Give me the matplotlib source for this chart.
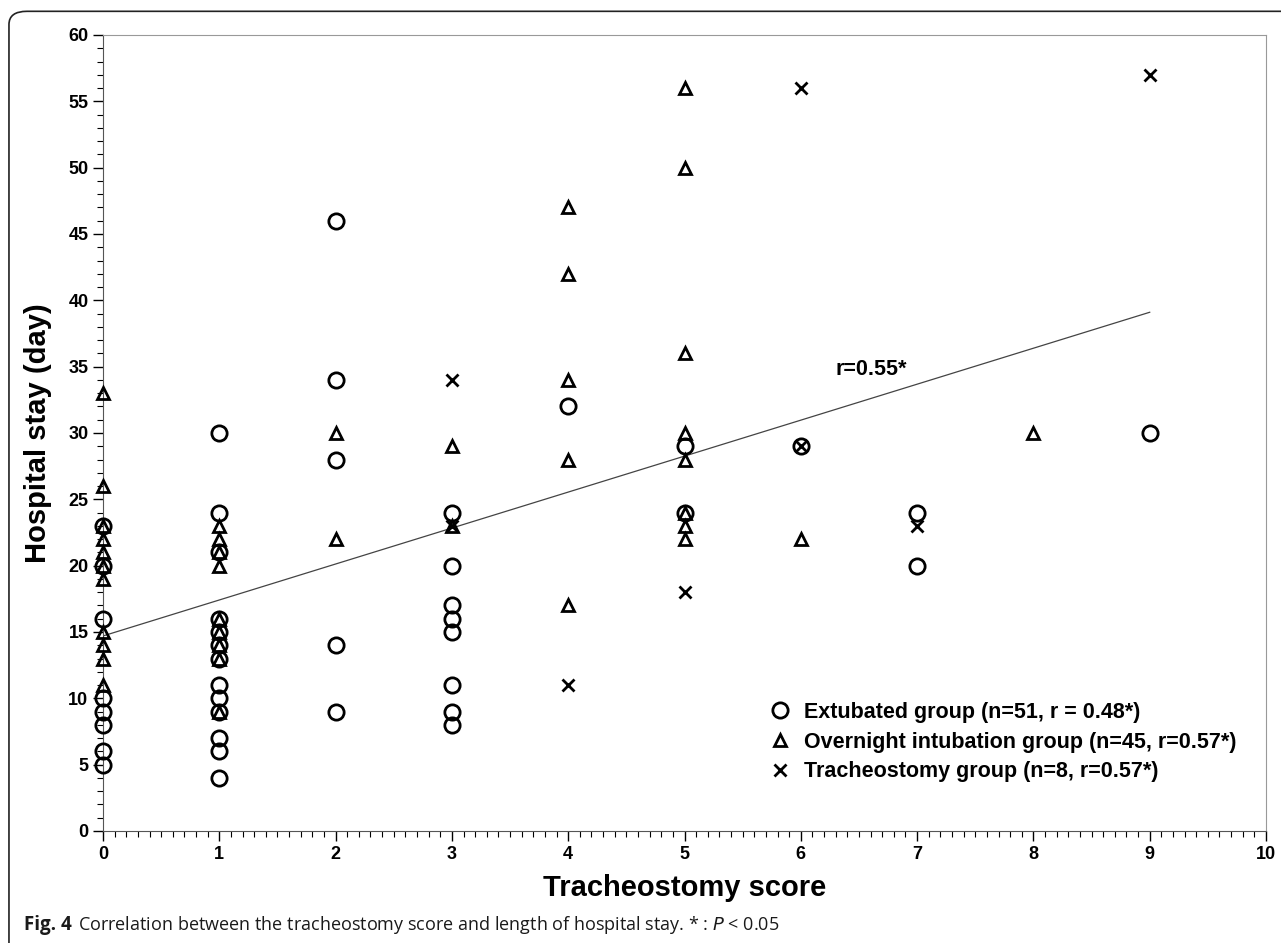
import numpy as np
import matplotlib.pyplot as plt
from matplotlib.patches import FancyBboxPatch

plt.rcParams['font.family'] = ['Liberation Sans', 'DejaVu Sans']

# Extubated group (circles)
ext_x = [0, 0, 0, 0, 0, 0, 0, 0,
         1, 1, 1, 1, 1, 1, 1, 1, 1, 1, 1, 1, 1,
         2, 2, 2, 2, 2,
         3, 3, 3, 3, 3, 3, 3, 3,
         4, 5, 5, 6, 7, 7, 9]
ext_y = [23, 20, 16, 10, 9, 8, 6, 5,
         30, 24, 21, 16, 15, 14, 13, 11, 10, 9, 7, 6, 4,
         46, 34, 28, 14, 9,
         24, 20, 17, 16, 15, 11, 9, 8,
         32, 29, 24, 29, 24, 20, 30]

# Overnight intubation group (triangles)
ovn_x = [0, 0, 0, 0, 0, 0, 0, 0, 0, 0, 0,
         1, 1, 1, 1, 1, 1, 1, 1, 1,
         2, 2,
         3, 3,
         4, 4, 4, 4, 4,
         5, 5, 5, 5, 5, 5, 5, 5,
         6, 8]
ovn_y = [33, 26, 23, 22, 21, 20, 19, 15, 14, 13, 11,
         23, 22, 21, 20, 16, 15, 14, 13, 9,
         30, 22,
         29, 23,
         47, 42, 34, 28, 17,
         56, 50, 36, 30, 28, 24, 23, 22,
         22, 30]

# Tracheostomy group (crosses)
tra_x = [3, 3, 4, 5, 6, 6, 7, 9]
tra_y = [34, 23, 11, 18, 56, 29, 23, 57]

# regression line end points
fit_x = [0, 9]
fit_y = [14.7, 39.1]

fig = plt.figure(figsize=(12.81, 9.43), dpi=100)
ax = fig.add_axes([0.0804, 0.1188, 0.9079, 0.8441])

ax.plot(fit_x, fit_y, color='#444444', lw=0.9, zorder=1)
ax.plot(ext_x, ext_y, 'o', mfc='none', mec='black', ms=11, mew=2.0,
        label='Extubated group (n=51, r = 0.48*)', zorder=3, clip_on=False)
ax.plot(ovn_x, ovn_y, '^', mfc='none', mec='black', ms=8.5, mew=2.0,
        label='Overnight intubation group (n=45, r=0.57*)', zorder=3, clip_on=False)
ax.plot(tra_x, tra_y, 'x', color='black', ms=9, mew=2.0,
        label='Tracheostomy group (n=8, r=0.57*)', zorder=3, clip_on=False)

ax.text(6.3, 34.4, 'r=0.55*', fontsize=15.5, fontweight='bold')

ax.set_xlim(0, 10)
ax.set_ylim(0, 60)
ax.set_xticks(range(0, 11))
ax.set_yticks(range(0, 61, 5))
ax.set_xticks(np.arange(0, 10.01, 0.1), minor=True)
ax.set_yticks(range(0, 61), minor=True)
ax.tick_params(which='major', length=7, width=1, labelsize=13, direction='out')
ax.tick_params(which='minor', length=4, width=0.8, direction='out')
for lab in ax.get_xticklabels() + ax.get_yticklabels():
    lab.set_fontweight('bold')
ax.spines['top'].set_color('#999999')
ax.spines['right'].set_color('#999999')
ax.spines['left'].set_color('#555555')
ax.spines['bottom'].set_color('#555555')

ax.set_xlabel('Tracheostomy score', fontsize=21, fontweight='bold', labelpad=8)
ax.set_ylabel('Hospital stay (day)', fontsize=21, fontweight='bold', labelpad=12)

leg = ax.legend(loc='lower right', bbox_to_anchor=(0.991, 0.037), frameon=False,
                prop={'size': 15.5, 'weight': 'bold'}, handletextpad=0.5,
                labelspacing=0.4, handlelength=1.2)

# outer frame
frame = FancyBboxPatch((0.007, -0.2), 1.2, 1.188, boxstyle='round,pad=0,rounding_size=0.014',
                       transform=fig.transFigure, fill=False, ec='#222222', lw=1.2)
fig.patches.append(frame)

fig.text(0.019, 0.019, 'Fig. 4', fontsize=13.5, fontweight='bold', color='#1a1a1a',
         family=['Open Sans', 'DejaVu Sans'], va='center')
fig.text(0.061, 0.019,
         'Correlation between the tracheostomy score and length of hospital stay. * : $P$ < 0.05',
         fontsize=13, color='#1a1a1a', family=['Open Sans', 'DejaVu Sans'], va='center')

fig.savefig('out.png', dpi=100)
